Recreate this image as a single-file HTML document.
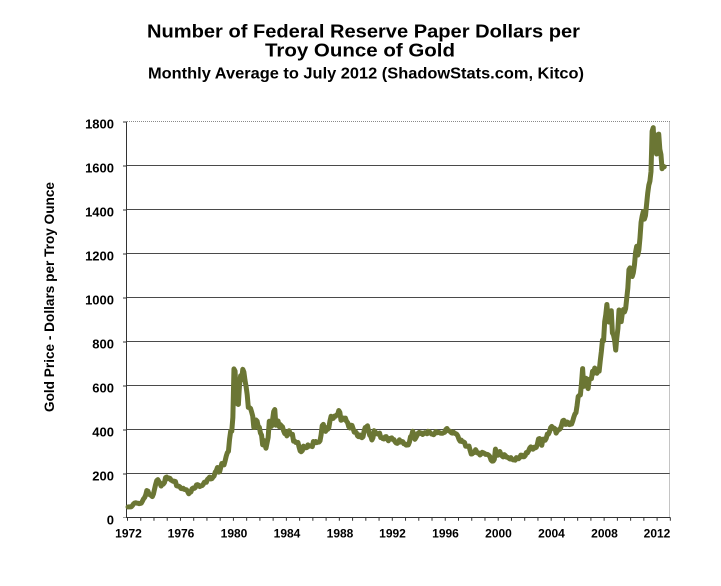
<!DOCTYPE html>
<html><head><meta charset="utf-8"><style>
html,body{margin:0;padding:0;background:#fff;}
svg{display:block;}
text{font-family:"Liberation Sans",Arial,sans-serif;font-weight:bold;fill:#000;}
</style></head><body>
<svg width="721" height="586" viewBox="0 0 721 586" xmlns="http://www.w3.org/2000/svg">
<rect width="721" height="586" fill="#fff"/>
<text x="363.5" y="37.5" font-size="18" text-anchor="middle" textLength="433" lengthAdjust="spacingAndGlyphs">Number of Federal Reserve Paper Dollars per</text>
<text x="360" y="56.7" font-size="18" text-anchor="middle" textLength="190" lengthAdjust="spacingAndGlyphs">Troy Ounce of Gold</text>
<text x="366" y="78.3" font-size="16" text-anchor="middle" textLength="436" lengthAdjust="spacingAndGlyphs">Monthly Average to July 2012 (ShadowStats.com, Kitco)</text>
<text transform="translate(54,297) rotate(-90)" font-size="13.5" text-anchor="middle" textLength="230" lengthAdjust="spacingAndGlyphs">Gold Price - Dollars per Troy Ounce</text>
<path stroke="#4a4a4a" stroke-width="1" shape-rendering="crispEdges" fill="none" d="M127 473.5H670M127 429.5H670M127 385.5H670M127 341.5H670M127 297.5H670M127 253.5H670M127 209.5H670M127 165.5H670"/>
<path stroke="#8a8a8a" stroke-width="1" stroke-dasharray="1,1" shape-rendering="crispEdges" fill="none" d="M127 121.5H670M669.5 121.5V517.5"/>
<path stroke="#333" stroke-width="1" shape-rendering="crispEdges" fill="none" d="M126.5 121.5V518M126.5 517.5H670"/>
<line x1="125" y1="121.5" x2="125" y2="518" stroke="#333" stroke-width="4" stroke-dasharray="1,43"/>
<line x1="127" y1="519" x2="671" y2="519" stroke="#333" stroke-width="3.5" stroke-dasharray="1,12.24"/>
<g font-size="13" text-anchor="end">
<text x="114" y="524.3">0</text>
<text x="114" y="480.3">200</text>
<text x="114" y="436.3">400</text>
<text x="114" y="392.3">600</text>
<text x="114" y="348.3">800</text>
<text x="114" y="304.3">1000</text>
<text x="114" y="260.3">1200</text>
<text x="114" y="216.3">1400</text>
<text x="114" y="172.3">1600</text>
<text x="114" y="128.3">1800</text>
</g>
<g font-size="12" text-anchor="middle">
<text x="128.5" y="537.5">1972</text>
<text x="181" y="537.5">1976</text>
<text x="234" y="537.5">1980</text>
<text x="287" y="537.5">1984</text>
<text x="340" y="537.5">1988</text>
<text x="392.5" y="537.5">1992</text>
<text x="445.5" y="537.5">1996</text>
<text x="498.5" y="537.5">2000</text>
<text x="551.5" y="537.5">2004</text>
<text x="604.5" y="537.5">2008</text>
<text x="657" y="537.5">2012</text>
</g>
<polyline transform="matrix(1.1033 0 0 -0.22 128.05 517.5)" vector-effect="non-scaling-stroke" fill="none" stroke="#6b7634" stroke-width="5" stroke-linejoin="round" stroke-linecap="round" points="0,48 1,48.3 2,48.3 3,49 4,54.6 5,62 6,65.7 7,67 8,65.5 9,64.9 10,62.8 11,63.9 12,65 13,74 14,84.4 15,90.5 16,102 17,122.5 18,120 19,106.8 20,103 21,100 22,94.9 23,106.7
24,129 25,150 26,168 27,172 28,163 29,154 30,143 31,154.6 32,151.8 33,158.8 34,181.7 35,183.8 36,176 37,179.6 38,178 39,169.8 40,167.3 41,164.2 42,165.2 43,163.2 44,144 45,142.8 46,142.2 47,139.3
48,131.5 49,130.9 50,132.6 51,127.9 52,126.9 53,125.8 54,117.8 55,107.9 56,113.9 57,116.2 58,130.4 59,134 60,132.3 61,136.3 62,148 63,149.3 64,146.6 65,140.8 66,143.4 67,144.8 68,149.6 69,159.2 70,162.1 71,160.5
72,173 73,178 74,183.7 75,175.3 76,176.3 77,183.7 78,188.7 79,206 80,212.7 81,227.2 82,206 83,207.8 84,227.3 85,245.7 86,242 87,239.2 88,257.6 89,279.1 90,294.7 91,300.8 92,355.1 93,391.7 94,392.5 95,455.1
96,675.3 97,665.3 98,553.6 99,517.4 100,513.8 101,600.7 102,644.3 103,626.5 104,673.6 105,661.1 106,623.5 107,594.9 108,557.6 109,500.5 110,499.8 111,495.8 112,479.7 113,460.8 114,409.3 115,410.2 116,443.1 117,437.7 118,413.3 119,410.1
120,384.1 121,374.3 122,330.3 123,350.4 124,333.8 125,314.9 126,339.1 127,364.3 128,437.7 129,422.2 130,414.1 131,444.3 132,481.3 133,490.6 134,419.6 135,432.4 136,438.4 137,412.9 138,422.3 139,416.3 140,411.9 141,393.6 142,381.7 143,388.6
144,370.9 145,386.8 146,394.3 147,381.2 148,377.3 149,377.6 150,347.6 151,347.7 152,341.1 153,340.2 154,341.2 155,320.2 156,302.8 157,299.1 158,304.4 159,324.3 160,316.3 161,316.8 162,317.4 163,330.1 164,323.5 165,325.3 166,325.3 167,322.4
168,345.4 169,338.9 170,345.7 171,340.4 172,342.6 173,342.6 174,348.7 175,376.6 176,417.7 177,423.4 178,398.1 179,391.5 180,408.3 181,401 182,408.7 183,438.6 184,460.2 185,449.6 186,450.5 187,460.8 188,460 189,465.7 190,467.4 191,486.3
192,477.2 193,442.1 194,443.6 195,452.1 196,451.3 197,451.7 198,437.6 199,431.3 200,413.4 201,406.8 202,419.8 203,418.7 204,404 205,388 206,390.2 207,384.4 208,371 209,367.6 210,375 211,365.4 212,362.6 213,367.4 214,394.3 215,409.4
216,410.1 217,416.8 218,393.1 219,374.3 220,369.4 221,352.4 222,362.5 223,394.7 224,389.3 225,380.6 226,381.8 227,378.2 228,383.7 229,363.8 230,363.3 231,358.4 232,356.8 233,366.7 234,367.7 235,356.4 236,348.8 237,358.7 238,360.1 239,361.7
240,354.5 241,353.9 242,344.3 243,338.6 244,337.2 245,340.8 246,353.1 247,343 248,345.4 249,344.4 250,335 251,334.8 252,329 253,329.3 254,330 255,342.2 256,367 257,371.4 258,392 259,379.8 260,355.3 261,364.2 262,373.5 263,383.6
264,386.9 265,382 266,384 267,377.3 268,381.4 269,385.6 270,385.5 271,380.4 272,391.6 273,389.8 274,384.4 275,379.3 276,378.6 277,376.5 278,382.1 279,391 280,385.2 281,387.6 282,386.2 283,383.7 284,383.1 285,383 286,385.5 287,387.4
288,399.5 289,404.8 290,396.2 291,392.9 292,392 293,385.3 294,383.5 295,387.5 296,383.1 297,381 298,377.9 299,369.2 300,354.8 301,346.6 302,351.8 303,344.5 304,343.8 305,340.8 306,324.1 307,324 308,322.8 309,324.9 310,306 311,288.7
312,289.3 313,297.5 314,295.9 315,308.4 316,299.1 317,292.3 318,292.9 319,284.1 320,289 321,296.1 322,294.1 323,291.6 324,287.1 325,287.3 326,286 327,282.6 328,276.4 329,261.3 330,256.1 331,256.7 332,264.7 333,310.7 334,293.2 335,283.1
336,284.6 337,300 338,286.4 339,280 340,275.3 341,285.7 342,281.6 343,274.5 344,273.7 345,270 346,266 347,272 348,265.5 349,261.9 350,263 351,260.5 352,272.4 353,270.2 354,267.5 355,272.4 356,283.4 357,283.1 358,276.2 359,275.9
360,281.7 361,295.5 362,294 363,302.7 364,314.5 365,321.2 366,313.3 367,310.3 368,319.2 369,316.6 370,319.2 371,333.4 372,356.9 373,359 374,340.6 375,328.2 376,355.7 377,356.4 378,351 379,359.8 380,378.9 381,378.9 382,389.9 383,407.6
384,414 385,405.3 386,406.7 387,403 388,383.8 389,392.4 390,398.1 391,400.5 392,405.3 393,420.5 394,439.4 395,442.1 396,424 397,423.4 398,434.2 399,428.9 400,421.9 401,430.7 402,424.5 403,437.9 404,456 405,469.9 406,476.7 407,509.8
408,549.9 409,555 410,557.1 411,610.6 412,676.5 413,596.2 414,633.8 415,632.6 416,598.2 417,585.8 418,627.8 419,629.8 420,631.2 421,664.8 422,654.9 423,679.4 424,666.9 425,655.5 426,665.3 427,665.4 428,712.7 429,754.6 430,806.3 431,803.2
432,889.6 433,922.3 434,968.4 435,909.7 436,888.7 437,889.5 438,939.8 439,839 440,829.9 441,806.6 442,760.9 443,816.1 444,858.7 445,943.2 446,924.3 447,890.2 448,928.6 449,945.7 450,934.2 451,949.4 452,996.6 453,1043.2 454,1127 455,1134.7
456,1117.9 457,1095.4 458,1113.3 459,1148.7 460,1205.4 461,1232.9 462,1193 463,1215.8 464,1271 465,1342 466,1369.9 467,1390.6 468,1356.4 469,1372.7 470,1424 471,1473.8 472,1510.4 473,1528.7 474,1572.8 475,1755.8 476,1771.9 477,1665.2 478,1739 479,1652.2
480,1656.1 481,1742.6 482,1673.8 483,1650.1 484,1585.5 485,1596.7 486,1593.9"/>
</svg>
</body></html>
